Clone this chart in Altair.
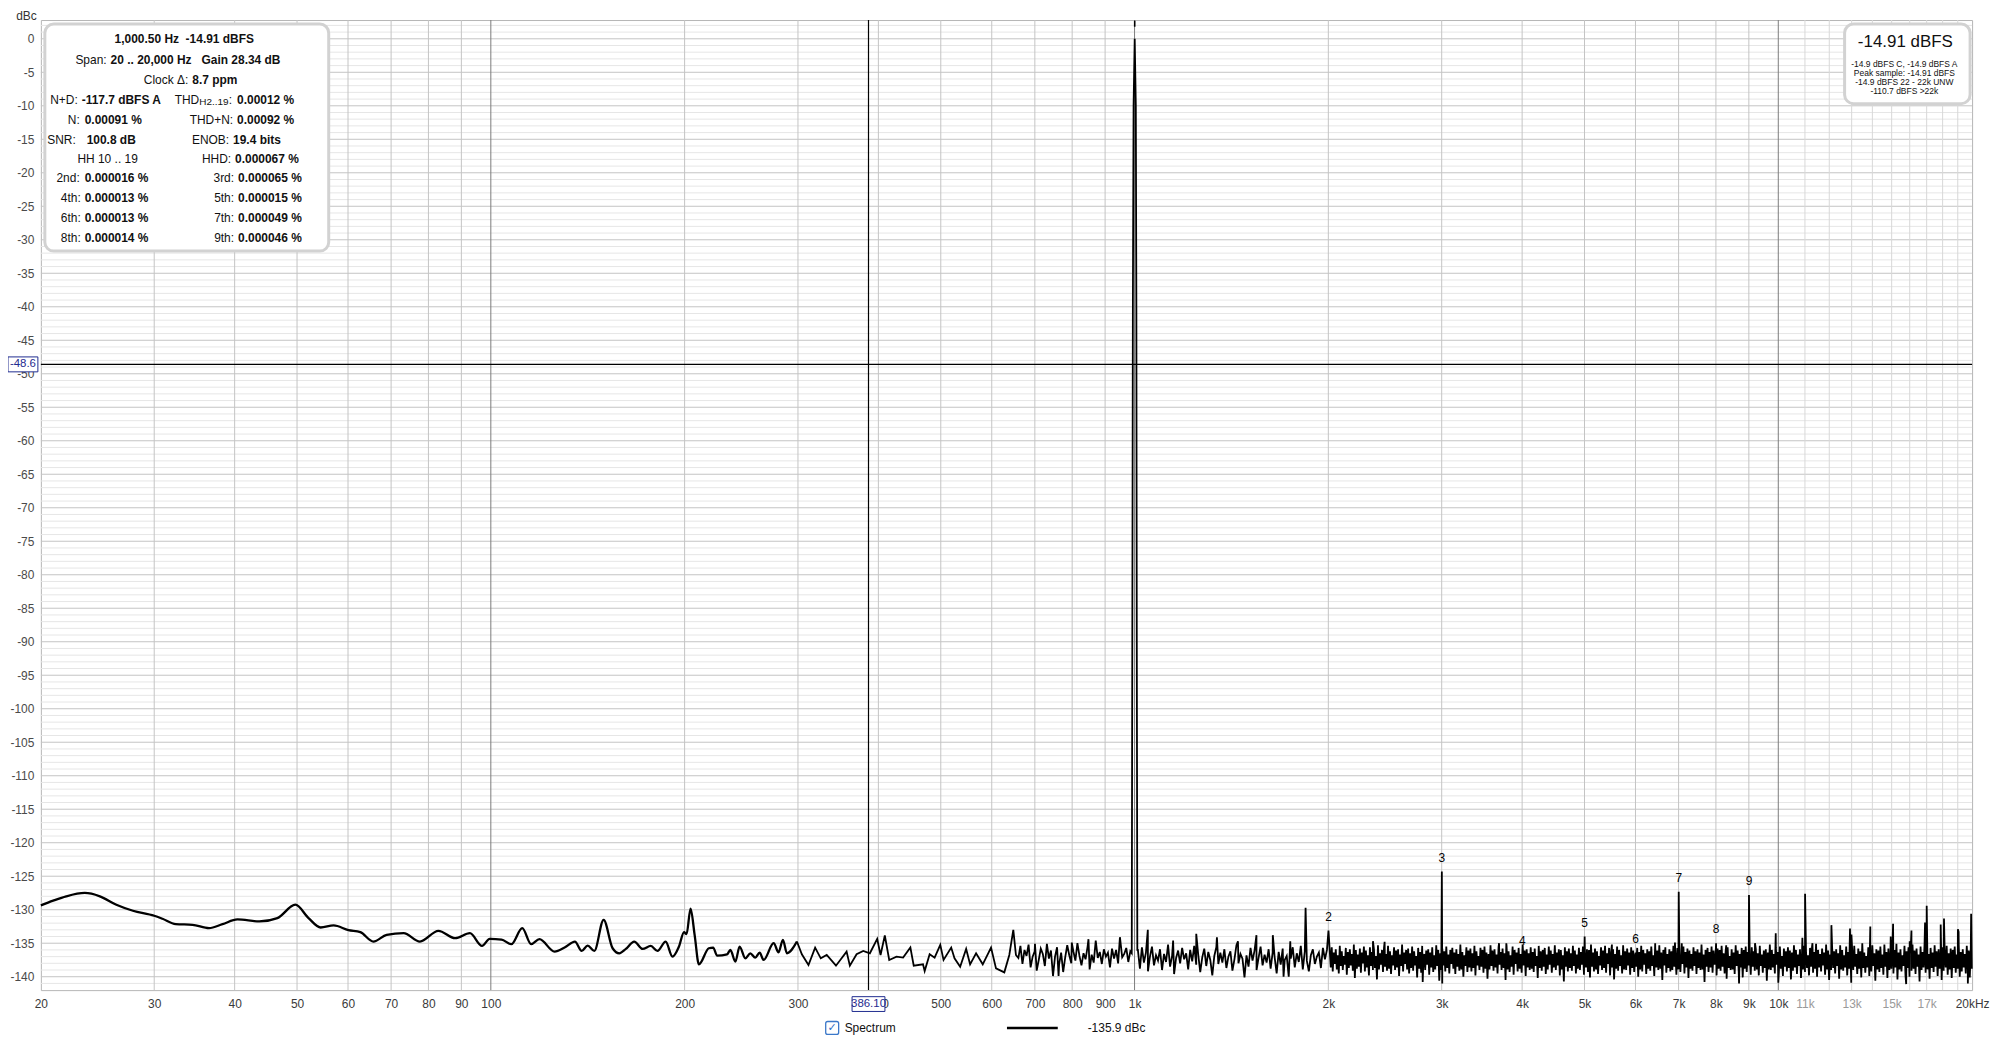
import altair as alt
import numpy as np
import pandas as pd

W, H = 1939, 974
FONT = "Liberation Sans"

# ---------------- trace: low-frequency part (Hz, dBc)
low_f = [20, 20.9, 21.9, 23.4, 24.7, 26.2, 27.8, 30.0, 30.9, 32.4, 34.4, 36.5, 38.3, 40.4,
         43.7, 46.6, 49.7, 52.1, 54.4, 57.0, 60.1, 62.7, 65.7, 68.9, 73.2, 77.6, 82.9, 88.0,
         92.8, 96.9, 99.6, 103.9, 107.6, 111.9, 115.5, 119.0, 125.6, 130.2, 135.1, 138.4,
         141.4, 144.8, 149.7, 154.6, 158.3, 162.1, 167.0, 172.1, 177.2, 181.5, 186.9, 191.5,
         196.0, 199.6, 201.4, 204.3, 207.3, 210.5, 218.1, 221.5, 224.7, 232.8, 235.6, 239.8,
         243.5, 248.5, 253.0, 257.5, 261.6, 265.3, 275.0, 279.9, 284.3, 288.4, 298.9,
         304.2, 311.5, 319.0, 325.5, 332.5, 343.7, 357.0, 361.2, 370.0, 378.9, 388.0, 398.3,
         403.1, 409.3, 415.8, 426.8, 437.0, 448.5, 453.9, 469.2, 472.0, 480.5, 489.1, 499.1,
         505.0, 519.0, 525.2, 535.9, 547.5, 555.3, 567.3, 581.0, 598.5, 609.2, 627.6, 638.9,
         648.1, 654.2]
low_db = [-129.35, -128.65, -128.0, -127.5, -128.0, -129.25, -130.15, -130.9, -131.35, -132.15,
          -132.25, -132.75, -132.15, -131.45, -131.75, -131.25, -129.25, -131.25, -132.65,
          -132.35, -133.05, -133.35, -134.75, -133.75, -133.5, -134.75, -133.15, -134.25,
          -133.5, -135.4, -134.35, -134.45, -135.15, -132.75, -135.15, -134.4, -136.25,
          -135.65, -134.75, -136.15, -135.35, -136.15, -131.5, -135.75, -136.5, -135.85,
          -134.75, -135.85, -135.4, -136.15, -134.75, -137.0, -135.5, -133.35, -133.65,
          -129.85, -133.75, -138.15, -135.75, -135.65, -136.85, -136.65, -136.0, -137.75,
          -135.5, -137.25, -136.5, -137.15, -136.4, -137.5, -135.0, -136.35, -134.5, -136.5,
          -134.75, -136.65, -138.25, -135.65, -137.25, -136.75, -138.35, -136.25, -138.35,
          -136.65, -136.15, -136.5, -134.35, -136.75, -133.85, -137.5, -137.0, -137.15,
          -135.65, -138.35, -138.15, -139.15, -136.65, -137.15, -135.25, -137.5, -135.65,
          -137.25, -138.5, -135.85, -138.15, -136.5, -138.15, -135.65, -138.75, -139.35,
          -136.75, -133.0, -136.75]

# ---------------- noise floor: dB values read along frequency spans
seg1_span = (660, 985)
seg1_db = [-137.2, -135.4, -138.1, -136.0, -136.9, -135.2, -138.6, -137.0, -136.2, -139.1,
           -137.5, -135.8, -136.6, -138.4, -135.1, -137.3, -136.1, -139.9, -137.0, -135.6,
           -138.2, -136.4, -139.3, -137.1, -135.3, -136.8, -138.0, -136.2, -137.6, -135.0,
           -136.9, -138.3, -136.5, -137.4, -135.5, -138.9, -136.7, -137.9, -134.6, -137.2,
           -136.3, -138.1, -135.9, -137.0, -136.4, -138.6, -135.8, -137.3, -136.0, -138.0,
           -134.4, -137.1, -136.6, -135.7, -137.8, -136.2]
seg2_span = (1012, 1990)
seg2_db = [-136.0, -138.8, -135.6, -137.9, -136.4, -139.2, -137.0, -135.5, -138.3, -136.8,
           -137.6, -135.9, -139.0, -136.6, -137.8, -135.2, -138.5, -136.9, -139.6, -137.2,
           -136.1, -138.0, -135.7, -137.4, -136.5, -138.9, -136.0, -137.7, -135.4, -138.2,
           -136.7, -139.3, -137.1, -135.8, -138.4, -136.3, -137.5, -139.8, -136.9, -135.6,
           -138.1, -136.4, -137.9, -135.9, -138.7, -137.0, -136.2, -139.1, -137.4, -135.3,
           -138.0, -136.6, -137.3, -140.1, -136.8, -138.5, -135.7, -137.6, -136.1, -139.0,
           -137.2, -135.5, -138.3, -136.7, -137.9, -135.9, -138.8, -136.4, -137.1, -139.5,
           -136.3, -138.2, -135.8, -137.5, -136.9, -140.0, -137.3, -135.6, -138.6, -136.5,
           -137.8, -135.4, -138.9, -136.2, -137.6, -139.2, -136.8, -135.9, -138.1, -137.0,
           -136.4, -138.7, -135.7, -137.4, -136.0]
# 2 kHz .. 20 kHz: upper and lower edge of the dense noise band, column by column
seg3_span = (2010, 19980)
seg3_top = [-136.1, -135.6, -136.4, -135.9, -136.8, -135.4, -136.2, -136.9, -135.7, -136.3,
            -135.9, -136.6, -135.2, -136.0, -136.7, -135.8, -136.4, -135.5, -136.1, -136.8,
            -135.6, -136.3, -135.9, -136.9, -135.3, -136.5, -136.0, -135.7, -136.6, -135.4,
            -136.2, -136.8, -135.6, -136.1, -135.9, -136.7, -135.2, -136.4, -136.0, -135.8,
            -136.5, -135.5, -136.2, -136.9, -135.7, -136.3, -135.4, -136.6, -136.1, -135.9,
            -136.4, -135.6, -136.8, -135.3, -136.0, -136.5, -135.8, -136.2, -135.5, -136.7,
            -136.0, -135.7, -136.4, -135.9, -136.6, -135.2, -136.3, -136.8, -135.6, -136.1,
            -135.8, -136.5, -135.4, -136.2, -136.9, -135.7, -136.0, -135.5, -136.4, -136.6,
            -135.3, -136.1, -135.9, -136.7, -135.6, -136.3, -135.8, -136.5, -135.4, -136.2,
            -136.8, -135.5, -136.0, -136.4, -135.7, -136.6, -135.2, -136.1, -135.9, -136.5,
            -135.6, -136.3, -135.8, -136.9, -135.4, -136.2, -136.0, -135.7, -136.7, -135.5,
            -136.1, -136.6, -135.3, -136.4, -135.9, -136.0, -136.8, -135.6, -136.2, -135.8,
            -136.5, -135.4, -136.1, -136.7, -135.7, -136.3, -135.5, -136.6, -135.9, -136.0,
            -135.2, -136.4, -135.8, -136.2, -136.9, -135.6, -136.1, -135.4, -136.5, -135.7,
            -136.3, -135.9, -136.6, -135.5, -136.0, -136.8, -135.3, -136.2, -135.8, -136.4,
            -135.6, -136.1, -136.7, -135.7, -136.3, -135.4, -136.0, -136.5, -135.9, -136.2,
            -135.5, -136.8, -135.8, -136.1, -135.3, -136.4, -136.0, -135.6, -136.6, -135.9,
            -136.2, -135.4, -136.5, -135.7, -136.9, -136.0, -135.5, -136.3, -135.8, -136.1,
            -136.6, -135.6, -136.2, -135.9, -136.4, -135.2, -136.7, -136.0, -135.7, -136.3,
            -135.5, -136.1, -136.8, -135.8, -136.0, -135.4, -136.5, -136.2, -135.6, -136.9,
            -135.9, -136.4, -135.3, -136.1, -136.6, -135.7, -136.0, -135.5, -136.3, -136.8,
            -135.6, -136.2, -135.8, -136.5, -135.4, -136.7, -136.1, -135.9, -136.4, -135.2,
            -136.0, -136.6, -135.7, -136.3, -135.5, -136.9, -135.8, -136.2, -135.6, -136.1,
            -136.4, -135.3, -136.0, -136.7, -135.9, -136.5, -135.4, -136.2, -136.8, -135.7,
            -135.5, -136.3, -135.1, -136.0, -136.6, -135.8, -136.4, -135.2, -136.1, -136.7,
            -135.6, -136.2, -135.9, -136.5, -135.3, -136.0, -136.8, -135.5, -136.3, -135.7,
            -136.1, -135.4, -136.6, -135.8, -136.2, -135.0, -136.4, -136.9, -135.6, -136.0,
            -135.3, -136.5, -135.9, -136.1, -135.5, -136.7, -135.2, -136.3, -135.8, -136.6,
            -135.7, -136.0, -135.1, -136.4, -135.9, -136.8, -135.4, -136.2, -135.6, -136.5,
            -135.2, -136.1, -135.8, -136.7, -135.5, -136.3, -135.0, -136.0, -136.6, -135.7,
            -136.4, -135.3, -136.2, -135.9, -136.8, -135.6, -136.1, -135.4, -136.5, -135.8,
            -136.0, -135.5, -136.7, -135.2, -136.3, -135.9, -136.6, -135.4, -136.1, -135.8]
seg3_bot = [-138.6, -139.2, -138.1, -138.9, -139.5, -138.4, -139.0, -138.2, -139.7, -138.7,
            -138.3, -139.1, -140.2, -138.8, -138.5, -139.4, -138.0, -139.2, -138.6, -139.8,
            -138.4, -139.0, -138.7, -140.4, -138.9, -138.2, -139.3, -138.5, -139.1, -138.8,
            -139.6, -138.3, -139.0, -138.6, -139.9, -138.4, -139.2, -138.1, -138.9, -139.5,
            -138.7, -139.1, -138.3, -140.1, -138.8, -139.4, -138.5, -139.0, -138.2, -139.7,
            -138.6, -139.3, -138.9, -138.4, -140.6, -139.0, -138.3, -139.2, -138.7, -139.5,
            -138.1, -138.8, -139.6, -138.5, -139.1, -138.9, -140.0, -138.4, -139.3, -138.6,
            -139.2, -138.7, -139.8, -138.3, -139.0, -138.5, -139.4, -138.8, -140.3, -138.9,
            -138.4, -139.1, -138.6, -139.5, -138.2, -139.0, -138.7, -140.5, -138.9, -139.3,
            -138.5, -139.7, -138.1, -139.2, -138.8, -139.4, -138.3, -139.9, -138.6, -139.0,
            -138.8, -139.3, -138.4, -140.2, -138.7, -139.1, -138.5, -139.6, -138.9, -138.2,
            -139.4, -138.6, -139.0, -138.3, -139.8, -138.9, -140.7, -138.5, -139.2, -138.7,
            -139.1, -138.4, -139.5, -138.8, -139.0, -138.2, -139.7, -138.6, -139.3, -140.1,
            -138.5, -139.2, -138.9, -139.6, -138.3, -139.0, -138.7, -139.4, -138.1, -139.8,
            -138.6, -140.4, -138.8, -139.1, -138.4, -139.5, -138.9, -139.0, -138.3, -139.7,
            -138.7, -139.3, -138.5, -140.0, -138.9, -139.2, -138.2, -139.6, -138.8, -139.1,
            -138.4, -139.9, -138.6, -139.0, -138.8, -140.5, -138.3, -139.4, -138.7, -139.2,
            -139.0, -138.5, -139.7, -138.9, -139.3, -138.1, -139.5, -138.6, -140.2, -138.8,
            -139.1, -138.4, -139.6, -138.7, -139.0, -138.9, -140.8, -138.5, -139.3, -138.6,
            -139.4, -138.2, -139.8, -138.8, -139.1, -138.5, -139.5, -140.3, -138.7, -139.0,
            -138.9, -139.6, -138.4, -139.2, -138.6, -140.1, -138.8, -139.3, -138.3, -139.7,
            -138.5, -139.1, -138.9, -139.8, -138.4, -139.4, -138.7, -140.6, -138.9, -139.0,
            -138.6, -139.5, -138.2, -139.3, -138.8, -139.9, -138.5, -139.2, -138.7, -140.4,
            -139.1, -138.6, -139.6, -138.4, -140.2, -138.9, -139.3, -138.7, -139.8, -138.5,
            -139.4, -138.8, -140.0, -138.6, -139.2, -138.3, -139.7, -138.9, -140.5, -139.0,
            -138.7, -139.5, -138.4, -140.3, -138.9, -139.1, -138.6, -139.8, -138.8, -140.9,
            -139.0, -138.5, -139.6, -138.8, -140.1, -138.7, -139.4, -138.6, -139.9, -139.2,
            -138.4, -140.6, -138.9, -139.3, -138.7, -139.7, -138.5, -140.2, -139.0, -138.8,
            -139.5, -138.6, -140.4, -138.9, -139.2, -138.4, -139.8, -138.7, -140.0, -139.1,
            -138.8, -139.6, -138.5, -140.7, -139.0, -138.6, -139.4, -138.9, -140.3, -138.7,
            -139.3, -138.5, -139.9, -138.8, -140.5, -139.1, -138.6, -139.7, -138.9, -140.2,
            -138.7, -139.4, -138.8, -140.0, -139.2, -138.6, -139.5, -138.9, -140.1, -138.8]

# ---------------- fundamental
fund_f = [990, 992, 994, 996.5, 1000.5, 1004.5, 1006.5, 1008, 1010]
fund_db = [-136.5, -90, -40, -10, 0, -10, -40, -90, -136.0]
peak_f, peak_db = 1000.5, 0.0

# ---------------- spurs
spur_f = [700.3, 762.0, 798.9, 848.0, 949.0,
          1048.6, 1147.9, 1246.9, 1342.6, 1447.5, 1546.5, 1639.7, 1704.0, 1745.4, 1843.6,
          2346, 2446, 2803, 3006, 3683, 3780, 5515, 6438, 6910, 7080,
          8300, 8690, 9200, 9909, 10000, 10900, 11005, 11300, 12092, 12924,
          12990, 13897, 14950, 15077, 15800, 16000, 16101, 16903, 17003, 17876,
          18088, 19010, 19060, 19700, 19932]
spur_db = [-135.1, -139.9, -134.9, -134.4, -134.1,
           -133.0, -134.6, -133.6, -134.1, -134.7, -133.8, -133.8, -140.0, -134.7, -129.7,
           -134.7, -134.8, -140.8, -141.0, -135.0, -135.0, -135.2, -135.0, -134.9, -135.0,
           -135.3, -141.0, -135.0, -133.5, -140.9, -134.2, -127.6, -135.0, -132.3, -132.8,
           -133.7, -132.5, -134.0, -132.1, -141.1, -134.7, -133.1, -131.9, -129.4, -132.2,
           -131.3, -132.9, -133.3, -141.0, -130.6]

# ---------------- harmonics
harm_n = [2, 3, 4, 5, 6, 7, 8, 9]
harm_db = [-133.1, -124.3, -136.8, -134.0, -136.4, -127.3, -135.0, -127.8]

# ---------------- cursor
cursor_f, cursor_db = 386.1, -48.6
legend_value = "-135.9 dBc"

# ---------------- axis ticks
xt_vals = [20, 30, 40, 50, 60, 70, 80, 90, 100, 200, 300, 400, 500, 600, 700, 800, 900,
           1000, 2000, 3000, 4000, 5000, 6000, 7000, 8000, 9000, 10000, 11000, 13000, 15000,
           17000, 20000]
xt_labs = ["20", "30", "40", "50", "60", "70", "80", "90", "100", "200", "300", "400", "500",
           "600", "700", "800", "900", "1k", "2k", "3k", "4k", "5k", "6k", "7k", "8k", "9k",
           "10k", "11k", "13k", "15k", "17k", "20kHz"]
xt_light = [11000, 13000, 15000, 17000]
yt_vals = list(range(-140, 1, 5))

vgrid_minor = [30, 40, 50, 60, 70, 80, 90, 200, 300, 400, 500, 600, 700, 800, 900,
               2000, 3000, 4000, 5000, 6000, 7000, 8000, 9000]
vgrid_light = [11000, 12000, 13000, 14000, 15000, 16000, 17000, 18000, 19000]
vgrid_major = [100, 1000, 10000]
hgrid_major = list(range(-140, 1, 5))
hgrid_minor = [v for v in range(-141, 3) if v % 5 != 0]

# ---------------- info panel text
info_lines = [
    # (weight, align, x, y, text, size)
    ("bold", "center", 144, 19, "1,000.50 Hz\u00a0\u00a0-14.91 dBFS", 12),
    ("normal", "right", 66, 40, "Span:", 12),
    ("bold", "left", 70, 40, "20 .. 20,000 Hz\u00a0\u00a0\u00a0Gain 28.34 dB", 12),
    ("normal", "right", 148, 60, "Clock \u0394:", 12),
    ("bold", "left", 152, 60, "8.7 ppm", 12),
    ("normal", "right", 37, 80, "N+D:", 12),
    ("bold", "left", 41, 80, "-117.7 dBFS A", 12),
    ("normal", "right", 159, 80, "THD", 12),
    ("normal", "right", 192, 80, ":", 12),
    ("bold", "left", 197, 80, "0.00012 %", 12),
    ("normal", "right", 39, 100, "N:", 12),
    ("bold", "left", 44, 100, "0.00091 %", 12),
    ("normal", "right", 193, 100, "THD+N:", 12),
    ("bold", "left", 197, 100, "0.00092 %", 12),
    ("normal", "right", 189, 120, "ENOB:", 12),
    ("bold", "left", 193, 120, "19.4 bits", 12),
    ("normal", "right", 35, 120, "SNR:", 12),
    ("bold", "left", 46, 120, "100.8 dB", 12),
    ("normal", "center", 67, 140, "HH 10 .. 19", 12),
    ("normal", "right", 191, 140, "HHD:", 12),
    ("bold", "left", 195, 140, "0.000067 %", 12),
    ("normal", "right", 39, 159, "2nd:", 12),
    ("bold", "left", 44, 159, "0.000016 %", 12),
    ("normal", "right", 194, 159, "3rd:", 12),
    ("bold", "left", 198, 159, "0.000065 %", 12),
    ("normal", "right", 40, 179, "4th:", 12),
    ("bold", "left", 44, 179, "0.000013 %", 12),
    ("normal", "right", 194, 179, "5th:", 12),
    ("bold", "left", 198, 179, "0.000015 %", 12),
    ("normal", "right", 40, 199, "6th:", 12),
    ("bold", "left", 44, 199, "0.000013 %", 12),
    ("normal", "right", 194, 199, "7th:", 12),
    ("bold", "left", 198, 199, "0.000049 %", 12),
    ("normal", "right", 40, 219, "8th:", 12),
    ("bold", "left", 44, 219, "0.000014 %", 12),
    ("normal", "right", 194, 219, "9th:", 12),
    ("bold", "left", 198, 219, "0.000046 %", 12),
    ("normal", "left", 159, 82, "H2..19", 10),
    ("normal", "center", 1872, 22, "-14.91 dBFS", 17),
    ("normal", "center", 1871, 44, "-14.9 dBFS C, -14.9 dBFS A", 8.5),
    ("normal", "center", 1871, 53, "Peak sample: -14.91 dBFS", 8.5),
    ("normal", "center", 1871, 62, "-14.9 dBFS 22 - 22k UNW", 8.5),
    ("normal", "center", 1871, 71, "-110.7 dBFS >22k", 8.5),
]

# ====================================================================== build data
def span_pts(span, vals):
    return list(np.geomspace(span[0], span[1], len(vals))), list(vals)

band = []
for t, b in zip(seg3_top, seg3_bot):
    band += [t, b]

f_all, d_all = [], []
for fs, ds in [span_pts(seg1_span, seg1_db), span_pts(seg2_span, seg2_db),
               span_pts(seg3_span, band), (fund_f, fund_db), (spur_f, spur_db),
               ([n * peak_f for n in harm_n], harm_db)]:
    f_all += list(fs)
    d_all += list(ds)
noise = pd.DataFrame({"f": f_all, "db": d_all}).sort_values("f")
low = pd.DataFrame({"f": low_f, "db": low_db})
smooth = low[low.f <= 298.9]
jag = pd.concat([low[low.f >= 298.9], noise]).sort_values("f").reset_index(drop=True)

xs = alt.Scale(type="log", domain=[20, 20000], nice=False)
ys = alt.Scale(domain=[-142, 2.8], nice=False, zero=False)

x_expr = " : ".join(f"datum.value == {v} ? '{l}'" for v, l in zip(xt_vals, xt_labs)) + " : ''"
x_axis = alt.Axis(values=xt_vals, labelExpr=x_expr, title=None, grid=False, ticks=False,
                  domain=False, labelFont=FONT, labelFontSize=12, labelPadding=8,
                  labelFlush=False, labelOverlap=False, labelBound=False,
                  labelColor={"condition": {"test": f"indexof({xt_light}, datum.value) >= 0",
                                            "value": "#9a9a9a"}, "value": "#3a3a3a"})
y_axis = alt.Axis(values=yt_vals, labelExpr="'' + datum.value", title="dBc", titleAngle=0,
                  titleX=-15, titleY=-9.5, titleAlign="center", titleBaseline="top",
                  titleFont=FONT, titleFontSize=12, titleFontWeight="normal",
                  titleColor="#333333", grid=False, ticks=False, domain=False,
                  labelFont=FONT, labelFontSize=12, labelColor="#4a4a4a", labelPadding=7,
                  labelOverlap=False)


def X(field):
    return alt.X(field, scale=xs, axis=x_axis)


def Y(field):
    return alt.Y(field, scale=ys, axis=y_axis)


def vrules(vals, color, width=1):
    return alt.Chart(pd.DataFrame({"v": vals})).mark_rule(color=color, strokeWidth=width).encode(
        x=X("v:Q"), y=alt.value(0), y2=alt.value(H))


def hrules(vals, color, width=1):
    return alt.Chart(pd.DataFrame({"v": vals})).mark_rule(color=color, strokeWidth=width).encode(
        y=Y("v:Q"), x=alt.value(0), x2=alt.value(W))


one = pd.DataFrame({"a": [0]})

layers = [
    hrules(hgrid_minor, "#e6e6e6"),
    hrules(hgrid_major, "#c4c4c4"),
    vrules(vgrid_light, "#d8d8d8"),
    vrules(vgrid_minor, "#c4c4c4"),
    vrules(vgrid_major, "#7c7c7c"),
    alt.Chart(smooth).mark_line(color="black", strokeWidth=2.3, interpolate="monotone").encode(
        x=X("f:Q"), y=Y("db:Q")),
    alt.Chart(jag).mark_line(color="black", strokeWidth=1.8).encode(x=X("f:Q"), y=Y("db:Q")),
]

# peak marker above the fundamental
pk = pd.DataFrame({"f": [peak_f], "y1": [peak_db + 1.8], "y2": [peak_db + 2.7]})
layers.append(alt.Chart(pk).mark_rule(color="black", strokeWidth=1.6).encode(
    x=X("f:Q"), y=Y("y1:Q"), y2="y2:Q"))

# harmonic numbers
hd = pd.DataFrame({"f": [n * peak_f for n in harm_n], "db": harm_db,
                   "t": [str(n) for n in harm_n]})
layers.append(alt.Chart(hd).mark_text(font=FONT, fontSize=12, color="black", dy=-14,
                                      baseline="middle").encode(
    x=X("f:Q"), y=Y("db:Q"), text="t:N"))

# cursor lines and their readouts
cur = pd.DataFrame({"f": [cursor_f], "db": [cursor_db],
                    "tf": [f"{cursor_f:.2f}"], "td": [f"{cursor_db:.1f}"]})
NAVY = "#1f2b8f"
layers += [
    alt.Chart(cur).mark_rule(color="black", strokeWidth=1.2).encode(
        x=X("f:Q"), y=alt.value(0), y2=alt.value(H)),
    alt.Chart(cur).mark_rule(color="black", strokeWidth=1.2).encode(
        y=Y("db:Q"), x=alt.value(0), x2=alt.value(W)),
    alt.Chart(cur).mark_point(shape="M-1,-0.45L1,-0.45L1,0.45L-1,0.45Z", size=1089,
                              filled=True, fill="white", stroke=NAVY, strokeWidth=1,
                              opacity=1).encode(x=X("f:Q"), y=alt.value(H + 14)),
    alt.Chart(cur).mark_text(font=FONT, fontSize=11.5, color=NAVY, baseline="middle").encode(
        x=X("f:Q"), y=alt.value(H + 14), text="tf:N"),
    alt.Chart(cur).mark_point(shape="M-1,-0.5L1,-0.5L1,0.5L-1,0.5Z", size=900,
                              filled=True, fill="white", stroke=NAVY, strokeWidth=1,
                              opacity=1).encode(y=Y("db:Q"), x=alt.value(-18)),
    alt.Chart(cur).mark_text(font=FONT, fontSize=11.5, color=NAVY, baseline="middle").encode(
        y=Y("db:Q"), x=alt.value(-18), text="td:N"),
]

# info panels
for (x1, x2, y1, y2) in [(4, 289, 4, 232), (1811, 1937, 4, 84)]:
    layers.append(alt.Chart(one).mark_rect(fill="white", stroke="#d2d2d2", strokeWidth=3,
                                           cornerRadius=9).encode(
        x=alt.value(x1), x2=alt.value(x2), y=alt.value(y1), y2=alt.value(y2)))

info = pd.DataFrame(info_lines, columns=["w", "a", "x", "y", "t", "s"])
for (w, a, s), g in info.groupby(["w", "a", "s"]):
    layers.append(alt.Chart(g).mark_text(font=FONT, fontWeight=w, align=a, fontSize=float(s),
                                         color="#111111", baseline="middle").encode(
        x=alt.X("x:Q", scale=None), y=alt.Y("y:Q", scale=None), text="t:N"))

# legend row
LY = 1012
layers += [
    alt.Chart(one).mark_rect(fill="white", stroke="#3b78c9", strokeWidth=1.3,
                             cornerRadius=2).encode(
        x=alt.value(788), x2=alt.value(801), y=alt.value(LY - 6.5), y2=alt.value(LY + 6.5)),
    alt.Chart(one).mark_text(text="\u2713", font="DejaVu Sans", fontSize=11,
                             color="#2f6cc4", baseline="middle").encode(
        x=alt.value(794.5), y=alt.value(LY)),
    alt.Chart(one).mark_text(text="Spectrum", font=FONT, fontSize=12, align="left",
                             color="#111111", baseline="middle").encode(
        x=alt.value(807), y=alt.value(LY)),
    alt.Chart(one).mark_rule(color="black", strokeWidth=2.5).encode(
        x=alt.value(970), x2=alt.value(1021), y=alt.value(LY)),
    alt.Chart(one).mark_text(text=legend_value, font=FONT, fontSize=12, align="left",
                             color="#111111", baseline="middle").encode(
        x=alt.value(1051), y=alt.value(LY)),
]

chart = alt.layer(*layers).properties(
    width=W, height=H, background="white",
    autosize=alt.AutoSizeParams(type="none"),
    padding={"left": 33, "top": 10, "right": 20, "bottom": 48},
).configure_view(stroke="#b5b5b5", strokeWidth=1)

chart.save("out.html", embed_options={"renderer": "svg", "actions": False})
